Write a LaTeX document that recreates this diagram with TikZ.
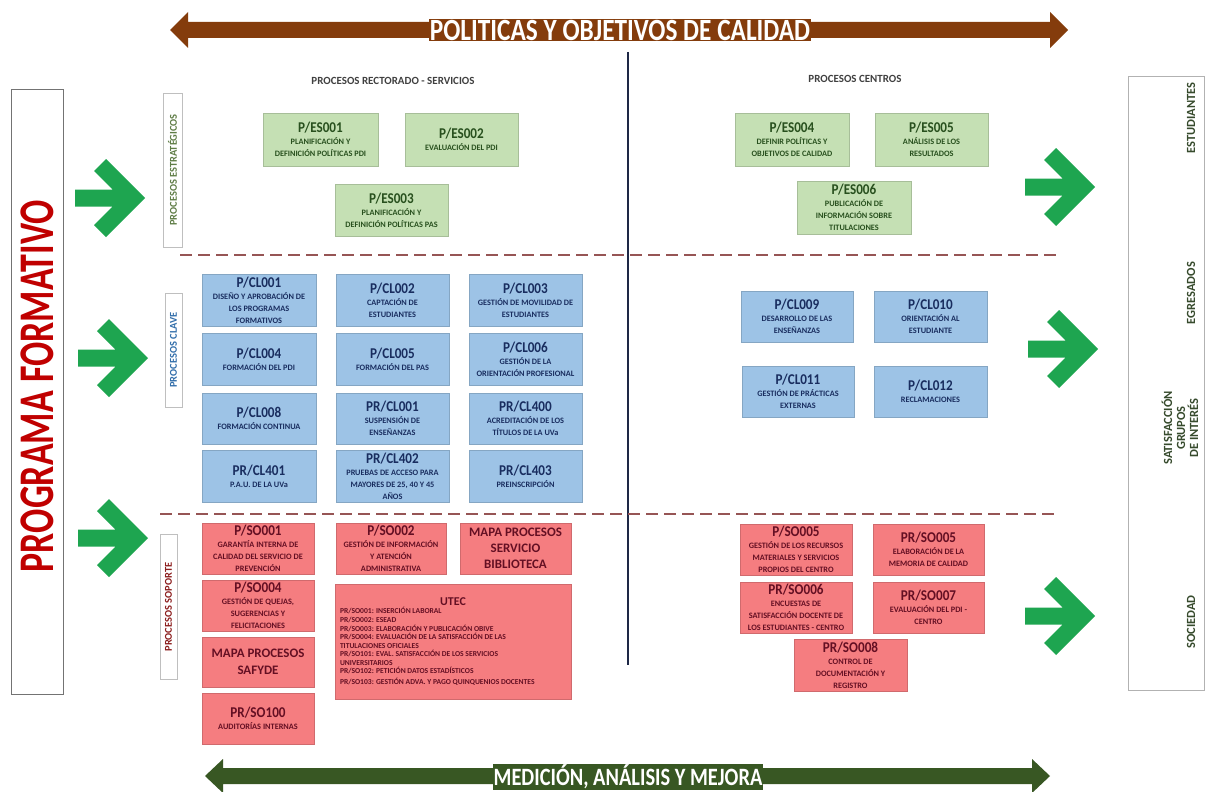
\documentclass[tikz,border=0pt]{standalone}
\usepackage{fontspec}
\setmainfont{Carlito}
\newfontfamily\condA{Carlito}[FakeStretch=0.72]
\newfontfamily\condB{Carlito}[FakeStretch=0.82]
\newfontfamily\condC{Carlito}[FakeStretch=0.88]
\definecolor{brownA}{RGB}{132,60,12}
\definecolor{greenA}{RGB}{56,87,35}
\definecolor{arrowG}{RGB}{30,165,80}
\definecolor{boxG}{RGB}{197,224,180}
\definecolor{txtG}{RGB}{40,80,30}
\definecolor{boxB}{RGB}{157,195,230}
\definecolor{txtB}{RGB}{25,45,95}
\definecolor{boxR}{RGB}{245,125,128}
\definecolor{txtR}{RGB}{100,15,35}
\definecolor{redT}{RGB}{192,0,0}
\definecolor{navy}{RGB}{30,40,70}
\definecolor{dashC}{RGB}{150,85,85}
\definecolor{lblG}{RGB}{95,125,70}
\definecolor{lblB}{RGB}{50,110,170}
\definecolor{lblR}{RGB}{140,30,30}
\definecolor{sideT}{RGB}{55,75,45}
\newcommand\ttl[1]{{\condC\fontsize{15}{15}\selectfont #1}}
% box: name, style, x1, y1, x2, y2, content
\newcommand\pbx[7]{\node[#2, minimum width={(#5-#3)*1bp}, minimum height={(#6-#4)*1bp}] (#1) at ({(#3+#5)/2},{(#4+#6)/2}) {#7};}
\newcommand\garrow[2]{\fill[arrowG, shift={(#1,#2)}] (35,0) -- (-4,39) -- (-16,27) -- (2.5,8.5) -- (-35,8.5) -- (-35,-8.5) -- (2.5,-8.5) -- (-16,-27) -- (-4,-39) -- cycle;}
\tikzset{
  anybox/.style={align=center, inner sep=1bp, font=\bfseries\fontsize{8.3}{12}\selectfont},
  gbox/.style={anybox, fill=boxG, draw=boxG!85!black, line width=0.3bp, text=txtG},
  bbox/.style={anybox, fill=boxB, draw=boxB!85!black, line width=0.3bp, text=txtB},
  rbox/.style={anybox, fill=boxR, draw=boxR!85!black, line width=0.3bp, text=txtR},
  vlabel/.style={rotate=90, draw=black!25, line width=0.6bp, inner sep=1bp, font=\bfseries\fontsize{10.5}{11}\selectfont},
  sidelbl/.style={rotate=90, align=center, text=sideT, font=\bfseries\fontsize{12.5}{13}\selectfont},
  sepline/.style={dashC, line width=1.4bp, dash pattern=on 12bp off 6bp},
  header/.style={text=black!75, font=\bfseries\fontsize{11}{12}\selectfont}
}
\begin{document}
\begin{tikzpicture}[x=1bp, y=-1bp]
\useasboundingbox (0,0) rectangle (1211,792);
\fill[white] (0,0) rectangle (1211,792);
% top banner arrow
\fill[brownA] (170,30) -- (188,12) -- (188,22) -- (1050,22) -- (1050,12) -- (1068,30) -- (1050,48) -- (1050,38) -- (188,38) -- (188,48) -- cycle;
\node[fill=brownA, text=white, inner sep=1bp, font=\condB\bfseries\fontsize{31}{32}\selectfont] (pol) at (620,30) {POLITICAS Y OBJETIVOS DE CALIDAD};
% bottom banner arrow
\fill[greenA] (205,776) -- (223,759) -- (223,768) -- (1032,768) -- (1032,759) -- (1050,776) -- (1032,793) -- (1032,784) -- (223,784) -- (223,793) -- cycle;
\node[fill=greenA, text=white, inner sep=1bp, font=\condB\bfseries\fontsize{25}{26}\selectfont] (med) at (628,777) {MEDICIÓN, ANÁLISIS Y MEJORA};
% left box
\node[draw=black!55, line width=1bp, minimum width=605bp, minimum height=51bp, rotate=90] (progbox) at (37.5,392) {};
\node[rotate=90, text=redT, font=\condA\bfseries\fontsize{50}{52}\selectfont] (prog) at (37.5,386) {PROGRAMA FORMATIVO};
% right box
\node[draw=black!30, line width=0.8bp, minimum width=76bp, minimum height=614bp] (rightbox) at (1166,383) {};
\node[sidelbl] (estud) at (1191,118) {ESTUDIANTES};
\node[sidelbl] (egres) at (1191,293) {EGRESADOS};
\node[sidelbl] (satis) at (1180,428) {SATISFACCIÓN\\GRUPOS\\DE INTERÉS};
\node[sidelbl] (socie) at (1191,622) {SOCIEDAD};
% green arrows
\garrow{110}{198}
\garrow{113}{358}
\garrow{113}{538}
\garrow{1060}{187}
\garrow{1063}{349}
\garrow{1060}{616}
% separators
\draw[navy, line width=2.6bp] (628,52) -- (628,665);
\draw[sepline] (180,255) -- (1058,255);
\draw[sepline] (160,514) -- (1058,514);
% headers
\node[header] (hrect) at (393,81) {PROCESOS RECTORADO - SERVICIOS};
\node[header] (hcent) at (855,79) {PROCESOS CENTROS};
% vertical labels
\node[vlabel, text=lblG, minimum width=154bp, minimum height=19bp] (lest) at (172.5,170) {PROCESOS ESTRATÉGICOS};
\node[vlabel, text=lblB, minimum width=114bp, minimum height=17bp] (lcla) at (173.5,350) {PROCESOS CLAVE};
\node[vlabel, text=lblR, minimum width=145bp, minimum height=17bp] (lsop) at (168.5,607) {PROCESOS SOPORTE};
% strategic
\pbx{es1}{gbox}{263}{113}{378}{166}{\ttl{P/ES001}\\PLANIFICACIÓN Y\\DEFINICIÓN POLÍTICAS PDI}
\pbx{es2}{gbox}{405}{113}{518}{166}{\ttl{P/ES002}\\EVALUACIÓN DEL PDI}
\pbx{es3}{gbox}{335}{184}{448}{236}{\ttl{P/ES003}\\PLANIFICACIÓN Y\\DEFINICIÓN POLÍTICAS PAS}
\pbx{es4}{gbox}{735}{113}{849}{166}{\ttl{P/ES004}\\DEFINIR POLÍTICAS Y\\OBJETIVOS DE CALIDAD}
\pbx{es5}{gbox}{875}{113}{988}{166}{\ttl{P/ES005}\\ANÁLISIS DE LOS\\RESULTADOS}
\pbx{es6}{gbox}{797}{181}{911}{234}{\ttl{P/ES006}\\PUBLICACIÓN DE\\INFORMACIÓN SOBRE\\TITULACIONES}
% key
\pbx{cl1}{bbox}{202}{274}{316}{326}{\ttl{P/CL001}\\DISEÑO Y APROBACIÓN DE\\LOS PROGRAMAS\\FORMATIVOS}
\pbx{cl2}{bbox}{336}{274}{449}{326}{\ttl{P/CL002}\\CAPTACIÓN DE\\ESTUDIANTES}
\pbx{cl3}{bbox}{469}{274}{582}{326}{\ttl{P/CL003}\\GESTIÓN DE MOVILIDAD DE\\ESTUDIANTES}
\pbx{cl4}{bbox}{202}{333}{316}{385}{\ttl{P/CL004}\\FORMACIÓN DEL PDI}
\pbx{cl5}{bbox}{336}{333}{449}{385}{\ttl{P/CL005}\\FORMACIÓN DEL PAS}
\pbx{cl6}{bbox}{469}{333}{582}{385}{\ttl{P/CL006}\\GESTIÓN DE LA\\ORIENTACIÓN PROFESIONAL}
\pbx{cl8}{bbox}{202}{393}{316}{444}{\ttl{P/CL008}\\FORMACIÓN CONTINUA}
\pbx{prcl1}{bbox}{336}{393}{449}{444}{\ttl{PR/CL001}\\SUSPENSIÓN DE\\ENSEÑANZAS}
\pbx{prcl400}{bbox}{469}{393}{582}{444}{\ttl{PR/CL400}\\ACREDITACIÓN DE LOS\\TÍTULOS DE LA UVa}
\pbx{prcl401}{bbox}{202}{450}{316}{502}{\ttl{PR/CL401}\\P.A.U. DE LA UVa}
\pbx{prcl402}{bbox}{336}{450}{449}{502}{\ttl{PR/CL402}\\PRUEBAS DE ACCESO PARA\\MAYORES DE 25, 40 Y 45\\AÑOS}
\pbx{prcl403}{bbox}{469}{450}{582}{502}{\ttl{PR/CL403}\\PREINSCRIPCIÓN}
\pbx{cl9}{bbox}{741}{291}{853}{342}{\ttl{P/CL009}\\DESARROLLO DE LAS\\ENSEÑANZAS}
\pbx{cl10}{bbox}{874}{291}{987}{342}{\ttl{P/CL010}\\ORIENTACIÓN AL\\ESTUDIANTE}
\pbx{cl11}{bbox}{742}{366}{854}{417}{\ttl{P/CL011}\\GESTIÓN DE PRÁCTICAS\\EXTERNAS}
\pbx{cl12}{bbox}{874}{366}{987}{417}{\ttl{P/CL012}\\RECLAMACIONES}
% support
\pbx{so1}{rbox}{202}{523}{314}{574}{\ttl{P/SO001}\\GARANTÍA INTERNA DE\\CALIDAD DEL SERVICIO DE\\PREVENCIÓN}
\pbx{so2}{rbox}{336}{523}{446}{574}{\ttl{P/SO002}\\GESTIÓN DE INFORMACIÓN\\Y ATENCIÓN\\ADMINISTRATIVA}
\pbx{bib}{rbox, font=\bfseries\fontsize{13}{16}\selectfont}{460}{523}{571}{574}{MAPA PROCESOS\\SERVICIO\\BIBLIOTECA}
\pbx{so4}{rbox}{202}{580}{314}{631}{\ttl{P/SO004}\\GESTIÓN DE QUEJAS,\\SUGERENCIAS Y\\FELICITACIONES}
\pbx{saf}{rbox, font=\bfseries\fontsize{13}{17}\selectfont}{202}{637}{314}{687}{MAPA PROCESOS\\SAFYDE}
\pbx{so100}{rbox}{202}{693}{314}{744}{\ttl{PR/SO100}\\AUDITORÍAS INTERNAS}
\pbx{utec}{rbox, align=left, font=\bfseries\fontsize{7.6}{8.6}\selectfont}{335}{584}{571}{699}{\makebox[226bp]{\fontsize{12}{13}\selectfont UTEC}\\PR/SO001: INSERCIÓN LABORAL\\PR/SO002: ESEAD\\PR/SO003: ELABORACIÓN Y PUBLICACIÓN OBIVE\\PR/SO004: EVALUACIÓN DE LA SATISFACCIÓN DE LAS\\TITULACIONES OFICIALES\\PR/SO101: EVAL. SATISFACCIÓN DE LOS SERVICIOS\\UNIVERSITARIOS\\PR/SO102: PETICIÓN DATOS ESTADÍSTICOS\\[2bp]PR/SO103: GESTIÓN ADVA. Y PAGO QUINQUENIOS DOCENTES}
\pbx{so5}{rbox}{740}{524}{852}{575}{\ttl{P/SO005}\\GESTIÓN DE LOS RECURSOS\\MATERIALES Y SERVICIOS\\PROPIOS DEL CENTRO}
\pbx{prso5}{rbox}{873}{524}{984}{575}{\ttl{PR/SO005}\\ELABORACIÓN DE LA\\MEMORIA DE CALIDAD}
\pbx{prso6}{rbox}{740}{582}{852}{633}{\ttl{PR/SO006}\\ENCUESTAS DE\\SATISFACCIÓN DOCENTE DE\\LOS ESTUDIANTES - CENTRO}
\pbx{prso7}{rbox}{873}{582}{984}{633}{\ttl{PR/SO007}\\EVALUACIÓN DEL PDI -\\CENTRO}
\pbx{prso8}{rbox}{794}{639}{907}{691}{\ttl{PR/SO008}\\CONTROL DE\\DOCUMENTACIÓN Y\\REGISTRO}
\end{tikzpicture}
\end{document}
